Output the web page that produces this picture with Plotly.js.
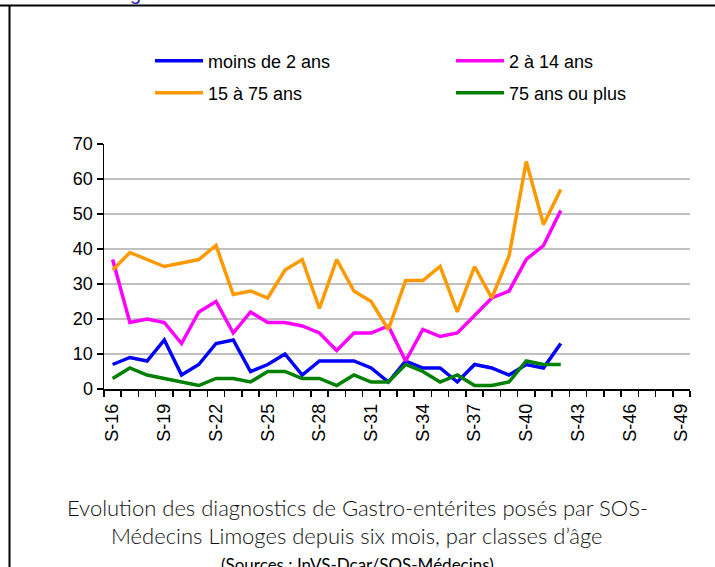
<!DOCTYPE html>
<html>
<head>
<meta charset="utf-8">
<script src="https://cdn.plot.ly/plotly-3.0.1.min.js"></script>
<style>html,body{margin:0;padding:0;background:#fff;}#chart{width:715px;height:567px;}</style>
</head>
<body>
<div id="chart"></div>
<script>
// Category axis (weeks) and tick labels
const allWeeks = ['S-16','S-17','S-18','S-19','S-20','S-21','S-22','S-23','S-24','S-25','S-26','S-27','S-28','S-29','S-30','S-31','S-32','S-33','S-34','S-35','S-36','S-37','S-38','S-39','S-40','S-41','S-42','S-43','S-44','S-45','S-46','S-47','S-48','S-49'];
const shownTickLabels = ['S-16','S-19','S-22','S-25','S-28','S-31','S-34','S-37','S-40','S-43','S-46','S-49'];
const dataWeeks = ['S-16','S-17','S-18','S-19','S-20','S-21','S-22','S-23','S-24','S-25','S-26','S-27','S-28','S-29','S-30','S-31','S-32','S-33','S-34','S-35','S-36','S-37','S-38','S-39','S-40','S-41','S-42'];

// Series values
const seriesNames = ['moins de 2 ans','2 à 14 ans','15 à 75 ans','75 ans ou plus'];
const moins2 = [7,9,8,14,4,7,13,14,5,7,10,4,8,8,8,6,2,8,6,6,2,7,6,4,7,6,13];
const de2a14 = [37,19,20,19,13,22,25,16,22,19,19,18,16,11,16,16,18,8,17,15,16,21,26,28,37,41,51];
const de15a75 = [34,39,37,35,36,37,41,27,28,26,34,37,23,37,28,25,17,31,31,35,22,35,26,38,65,47,57];
const plus75 = [3,6,4,3,2,1,3,3,2,5,5,3,3,1,4,2,2,7,5,2,4,1,1,2,8,7,7];

const titleLine1 = 'Evolution des diagnostics de Gastro-entérites posés par SOS-';
const titleLine2 = 'Médecins Limoges depuis six mois, par classes d’âge';
const sourceLine = '(Sources : InVS-Dcar/SOS-Médecins)';

// Layout geometry (pixels)
const W = 715, H = 567;
const M = {l:104, r:25, t:144, b:178};
const PW = W - M.l - M.r, PH = H - M.t - M.b;
const px = v => (v - M.l) / PW;
const py = v => (H - M.b - v) / PH;

const colors = ['#0000FF','#FF00FF','#FF9900','#008000'];
const ys = [moins2, de2a14, de15a75, plus75];
const legendIds = ['legend','legend2','legend3','legend4'];
const legendPos = [[150,61],[451,61],[150,93],[451,93]];

const traces = ys.map((y,i) => ({
  type:'scatter', mode:'lines', x: dataWeeks, y: y, name: seriesNames[i],
  line:{color:colors[i], width:3.5}, legend: legendIds[i], hoverinfo:'x+y+name'
}));

const tickFont = {family:'Liberation Sans, Arial, sans-serif', size:18, color:'#000'};
const legFont = {family:'Liberation Sans, Arial, sans-serif', size:18, color:'#000'};

const layout = {
  width:W, height:H, margin:M, paper_bgcolor:'#fff', plot_bgcolor:'#fff',
  showlegend:true,
  xaxis:{
    type:'category', categoryorder:'array', categoryarray: allWeeks,
    range:[-0.5, allWeeks.length - 0.5],
    tickmode:'array', tickvals: allWeeks,
    ticktext: allWeeks.map(w => shownTickLabels.includes(w) ? w : ''),
    tickson:'boundaries', ticks:'outside', ticklen:6, tickwidth:1.5, tickcolor:'#000',
    tickangle:-90, tickfont: tickFont, ticklabelstandoff: 6,
    showline:true, linecolor:'#000', linewidth:1.5, showgrid:false, zeroline:false
  },
  yaxis:{
    range:[0,70], dtick:10, tick0:0, ticks:'outside', ticklen:6, tickwidth:1.5, tickcolor:'#000',
    tickfont: tickFont, showline:true, linecolor:'#000', linewidth:1.5,
    showgrid:true, gridcolor:'#c0c0c0', gridwidth:1.5, zeroline:false
  },
  annotations:[
    {text:titleLine1, xref:'paper', yref:'paper', x:px(357), y:py(507), xanchor:'center', yanchor:'middle', showarrow:false,
     font:{family:'Lato, Open Sans, sans-serif', size:22, weight:300, color:'#111'}},
    {text:titleLine2, xref:'paper', yref:'paper', x:px(357), y:py(535), xanchor:'center', yanchor:'middle', showarrow:false,
     font:{family:'Lato, Open Sans, sans-serif', size:22, weight:300, color:'#111'}},
    {text:sourceLine, xref:'paper', yref:'paper', x:px(357), y:py(564), xanchor:'center', yanchor:'middle', showarrow:false,
     font:{family:'Lato, Open Sans, sans-serif', size:17, color:'#000'}},
    {text:'g', xref:'paper', yref:'paper', x:px(135), y:py(-7), xanchor:'center', yanchor:'middle', showarrow:false,
     font:{family:'Liberation Sans, Arial, sans-serif', size:20, color:'#2a2aa8'}}
  ],
  shapes:[
    {type:'line', xref:'paper', yref:'paper', x0:px(0), x1:px(W), y0:py(5.5), y1:py(5.5), line:{color:'#000', width:2}},
    {type:'line', xref:'paper', yref:'paper', x0:px(9.5), x1:px(9.5), y0:py(5.5), y1:py(H+2), line:{color:'#000', width:2}}
  ]
};

legendIds.forEach((id,i) => {
  layout[id] = {
    orientation:'h', x: px(legendPos[i][0]), xanchor:'left', y: py(legendPos[i][1]), yanchor:'middle',
    font: legFont, itemwidth:48, bgcolor:'rgba(0,0,0,0)', borderwidth:0
  };
});

Plotly.newPlot('chart', traces, layout, {displayModeBar:false, staticPlot:true});
</script>
</body>
</html>
